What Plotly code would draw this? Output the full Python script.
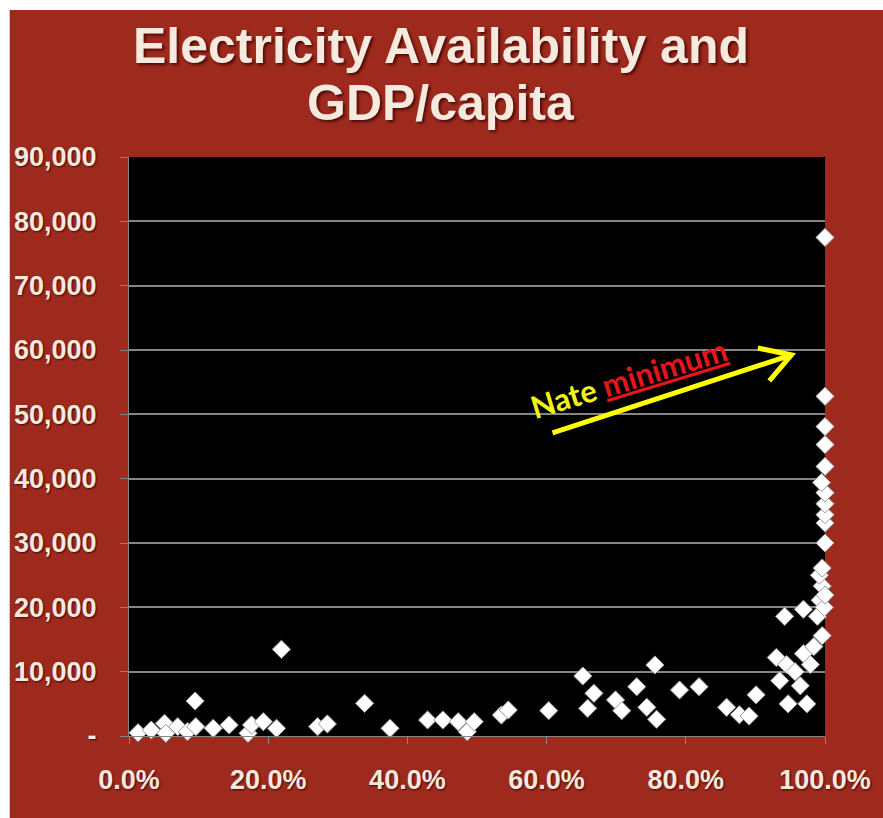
import plotly.graph_objects as go

# Share of population with electricity access (fraction) and GDP per capita (US$)
access = [
    0.013, 0.032, 0.051, 0.053, 0.070, 0.084, 0.095, 0.096, 0.121, 0.144,
    0.171, 0.176, 0.193, 0.212, 0.219, 0.271, 0.285, 0.3385, 0.375, 0.429,
    0.451, 0.473, 0.486, 0.496, 0.535, 0.545, 0.603, 0.652, 0.659, 0.668,
    0.699, 0.708, 0.7295, 0.744, 0.7556, 0.758, 0.791, 0.819, 0.8586, 0.877,
    0.891, 0.901,
    0.930, 0.935, 0.942, 0.945, 0.947, 0.957, 0.9645, 0.969, 0.969, 0.974,
    0.979, 0.984, 0.989, 0.993, 0.996, 0.996, 0.999, 0.992, 0.996, 1.0,
    1.0, 1.0, 1.0, 1.0, 1.0, 1.0, 0.995, 1.0, 1.0, 1.0, 1.0, 1.0, 1.0, 1.0,
]
gdp = [
    510, 930, 1970, 420, 1450, 670, 5440, 1450, 1190, 1710,
    420, 1710, 2220, 1190, 13480, 1450, 1870, 5080, 1190, 2490,
    2490, 2220, 670, 2220, 3260, 4040, 3940, 9330, 4300, 6630,
    5600, 3940, 7660, 4460, 11040, 2600, 7150, 7660, 4460, 3300,
    3100, 6400,
    12200, 8600, 18600, 11100, 5000, 10000, 7800, 19700, 12800, 5000,
    11100, 13900, 18600, 21100, 15600, 23300, 20000, 25000, 26100, 21900,
    30000, 33100, 34400, 36100, 37800, 37800, 39400, 41900, 45300, 48100,
    52800, 77500,
]

y_ticks = [0, 10000, 20000, 30000, 40000, 50000, 60000, 70000, 80000, 90000]
y_labels = ["-", "10,000", "20,000", "30,000", "40,000", "50,000",
            "60,000", "70,000", "80,000", "90,000"]
x_ticks = [0, 0.2, 0.4, 0.6, 0.8, 1.0]
x_labels = ["0.0%", "20.0%", "40.0%", "60.0%", "80.0%", "100.0%"]

# Yellow arrow (tail -> tip, with two open head strokes), in data units
arrow_tail = (0.6085, 47100)
arrow_tip = (0.9518, 59230)
head_upper = (0.9035, 60300)
head_lower = (0.920, 55200)

RED = "#9E2A1E"
CREAM = "#F6EADF"
GRID = "#858585"

fig = go.Figure()
fig.add_trace(go.Scatter(
    x=access, y=gdp, mode="markers",
    marker=dict(symbol="diamond", size=14, color="white",
                line=dict(color="#9a9a9a", width=1)),
    cliponaxis=False, showlegend=False, hoverinfo="x+y",
))

tick_font = dict(family="Liberation Sans, Arial, sans-serif", size=27,
                 color=CREAM, weight="bold",
                 shadow="1px 1px 2px rgba(60,0,0,0.9)")

fig.update_layout(
    width=883, height=818,
    margin=dict(l=129, r=48, t=157, b=82),
    paper_bgcolor=RED, plot_bgcolor="black",
    xaxis=dict(range=[0, 1.0], tickvals=x_ticks, ticktext=x_labels,
               showgrid=False, zeroline=False, ticks="outside", ticklen=7,
               tickcolor=GRID, showline=True, linecolor=GRID, linewidth=1,
               tickfont=tick_font, ticklabelstandoff=13),
    yaxis=dict(range=[0, 90000], tickvals=y_ticks, ticktext=y_labels,
               showgrid=True, gridcolor=GRID, gridwidth=2, zeroline=False,
               ticks="outside", ticklen=8, tickcolor=GRID, showline=True,
               linecolor=GRID, linewidth=1, tickfont=tick_font,
               ticklabelstandoff=18),
)

# White strips along the left and top edges of the page
fig.add_shape(type="rect", xref="paper", yref="paper", x0=-0.2, x1=(8 - 129) / 706,
              y0=-0.2, y1=1.3, fillcolor="white", line_width=0, layer="below")
fig.add_shape(type="rect", xref="paper", yref="paper", x0=-0.2, x1=1.2,
              y0=(736 - 10) / 579, y1=1.3, fillcolor="white", line_width=0,
              layer="below")

title_font = dict(family="Liberation Sans, Arial, sans-serif", size=50,
                  color=CREAM, weight="bold",
                  shadow="2px 2px 3px rgba(60,0,0,0.8)")
for line, ypx in [("Electricity Availability and", 46), ("GDP/capita", 103)]:
    fig.add_annotation(text=line, xref="paper", yref="paper",
                       x=(445 - 129) / 706, y=(736 - ypx) / 579,
                       xanchor="center", yanchor="middle", showarrow=False,
                       font=title_font)

# Arrow shaft and head
path = (f"M {arrow_tail[0]},{arrow_tail[1]} L {arrow_tip[0]},{arrow_tip[1]} "
        f"M {head_upper[0]},{head_upper[1]} L {arrow_tip[0]},{arrow_tip[1]} "
        f"L {head_lower[0]},{head_lower[1]}")
fig.add_shape(type="path", path=path, xref="x", yref="y",
              line=dict(color="#FFFF00", width=5))

fig.add_annotation(
    text="Nate <span style='color:#E8141C'><u>minimum</u></span>",
    x=0.718, y=55700, xref="x", yref="y", showarrow=False, textangle=-17,
    font=dict(family="Lato, Open Sans, sans-serif", size=31, color="#F2F21A",
              weight="bold"),
)

fig.write_html("out.html")
